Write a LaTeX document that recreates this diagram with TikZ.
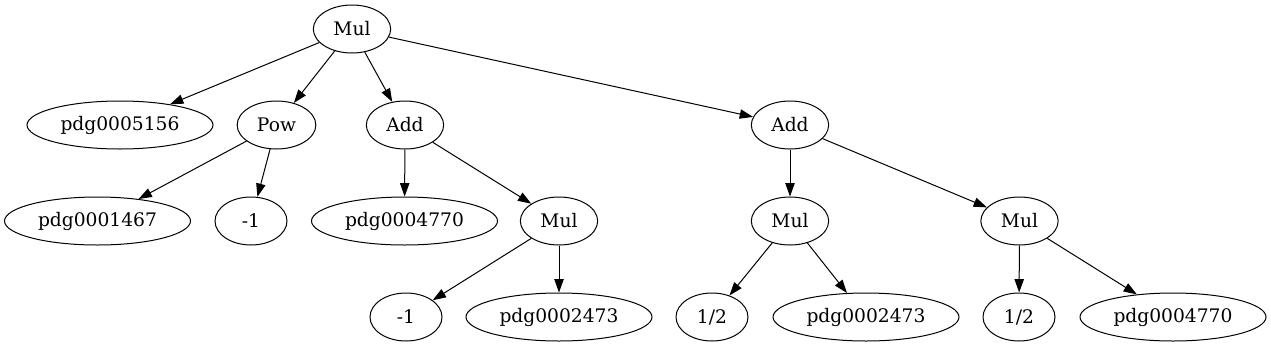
\documentclass[tikz,border=0pt]{standalone}
\usepackage{fontspec}
\setmainfont{DejaVu Serif}
\usepackage{tikz}
\usetikzlibrary{shapes.geometric, arrows.meta}

\begin{document}
\begin{tikzpicture}[
    x=0.75pt, y=-0.75pt,
    op/.style={ellipse, draw, line width=0.75pt, inner sep=0pt, minimum width=58pt,
               minimum height=36pt, font=\fontsize{14}{16}\selectfont},
    sym/.style={op, minimum width=139.5pt},
    num/.style={op, minimum width=54pt},
    arrow/.style={->, >={Triangle[length=10pt, width=7pt]}, line width=0.75pt},
  ]
    \useasboundingbox (0,0) rectangle (1271,347);

    % root
    \node[op] (MUL0) at (352,29) {Mul};

    % first level
    \node[sym] (PDG5156) at (120,125) {pdg0005156};
    \node[op, minimum width=59pt] (POW) at (276.5,125) {Pow};
    \node[op] (ADD1) at (405,125) {Add};
    \node[op] (ADD2) at (790,125) {Add};

    % second level
    \node[sym] (PDG1467) at (97.5,221) {pdg0001467};
    \node[num] (NEG1A) at (251,221) {-1};
    \node[sym] (PDG4770A) at (404.5,221) {pdg0004770};
    \node[op] (MUL1) at (559,221) {Mul};
    \node[op] (MUL2) at (790,221) {Mul};
    \node[op] (MUL3) at (1019.5,221) {Mul};

    % leaves
    \node[num] (NEG1B) at (406,317) {-1};
    \node[sym] (PDG2473A) at (559,317) {pdg0002473};
    \node[num] (HALFA) at (712,317) {1/2};
    \node[sym] (PDG2473B) at (866,317) {pdg0002473};
    \node[num] (HALFB) at (1019,317) {1/2};
    \node[sym] (PDG4770B) at (1173,317) {pdg0004770};

    \draw[arrow] (MUL0) -- (PDG5156);
    \draw[arrow] (MUL0) -- (POW);
    \draw[arrow] (MUL0) -- (ADD1);
    \draw[arrow] (MUL0) -- (ADD2);
    \draw[arrow] (POW) -- (PDG1467);
    \draw[arrow] (POW) -- (NEG1A);
    \draw[arrow] (ADD1) -- (PDG4770A);
    \draw[arrow] (ADD1) -- (MUL1);
    \draw[arrow] (MUL1) -- (NEG1B);
    \draw[arrow] (MUL1) -- (PDG2473A);
    \draw[arrow] (ADD2) -- (MUL2);
    \draw[arrow] (ADD2) -- (MUL3);
    \draw[arrow] (MUL2) -- (HALFA);
    \draw[arrow] (MUL2) -- (PDG2473B);
    \draw[arrow] (MUL3) -- (HALFB);
    \draw[arrow] (MUL3) -- (PDG4770B);
  \end{tikzpicture}
\end{document}
